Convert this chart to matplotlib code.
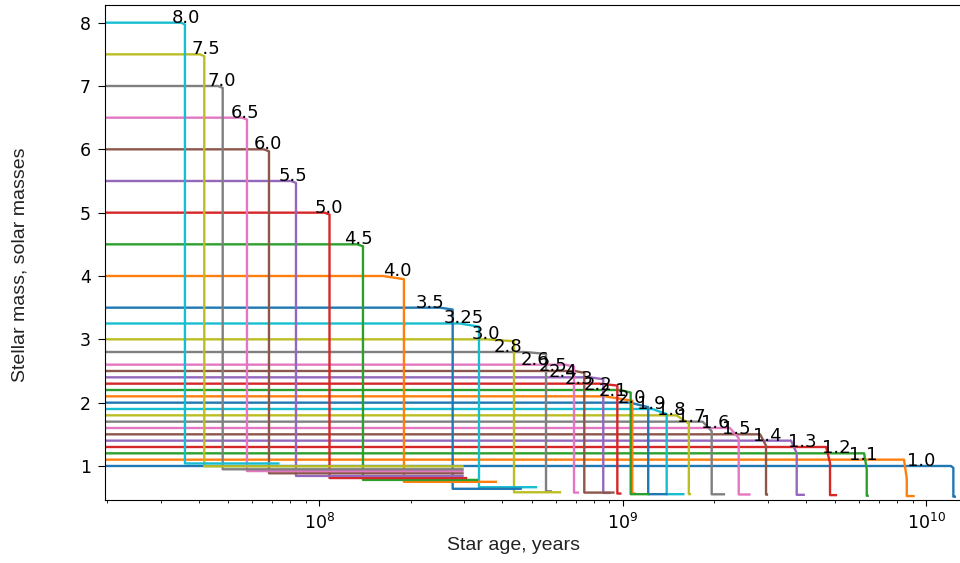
import matplotlib
matplotlib.use('Agg')
import matplotlib.pyplot as plt

# Initial stellar masses (solar masses), in plotting order
masses = [1.0, 1.1, 1.2, 1.3, 1.4, 1.5, 1.6, 1.7, 1.8, 1.9,
          2.0, 2.1, 2.2, 2.3, 2.4, 2.5, 2.6, 2.8, 3.0, 3.25,
          3.5, 4.0, 4.5, 5.0, 5.5, 6.0, 6.5, 7.0, 7.5, 8.0]
mass_labels = ['1.0', '1.1', '1.2', '1.3', '1.4', '1.5', '1.6', '1.7', '1.8', '1.9',
               '2.0', '2.1', '2.2', '2.3', '2.4', '2.5', '2.6', '2.8', '3.0', '3.25',
               '3.5', '4.0', '4.5', '5.0', '5.5', '6.0', '6.5', '7.0', '7.5', '8.0']

# Main-sequence age (years) where each label sits
ms_age = [9.64e9, 6.19e9, 5.04e9, 3.90e9, 2.99e9, 2.37e9, 2.01e9, 1.68e9, 1.44e9, 1.24e9,
          1.07e9, 9.27e8, 8.27e8, 7.16e8, 6.34e8, 5.88e8, 5.13e8, 4.18e8, 3.54e8, 2.98e8,
          2.32e8, 1.81e8, 1.34e8, 1.07e8, 8.15e7, 6.77e7, 5.70e7, 4.77e7, 4.22e7, 3.62e7]
# Age where mass loss begins (years)
bend_age = [1.204e10, 8.43e9, 6.23e9, 4.67e9, 3.58e9, 2.83e9, 2.25e9, 1.83e9, 1.50e9, 1.25e9,
            1.055e9, 8.72e8, 9.77e8, 8.40e8, 7.79e8, 6.95e8, 6.44e8, 4.75e8, 3.56e8, 2.90e8,
            2.50e8, 1.62e8, 1.33e8, 1.04e8, 8.06e7, 6.56e7, 5.55e7, 4.63e7, 4.04e7, 3.50e7]
# Mass just before the final drop
tip_mass = [0.97, 0.80, 0.95, 1.05, 1.20, 1.32, 1.44, 1.55, 1.67, 1.82,
            1.93, 2.03, 2.16, 2.27, 2.37, 2.47, 2.57, 2.77, 2.97, 3.20,
            3.47, 3.95, 4.47, 4.97, 5.47, 5.97, 6.47, 6.97, 7.47, 7.97]
# Age of the final drop (years)
drop_age = [1.226e10, 8.61e9, 6.355e9, 4.81e9, 3.736e9, 2.96e9, 2.406e9, 1.96e9, 1.648e9, 1.393e9,
            1.211e9, 1.073e9, 1.060e9, 9.58e8, 8.61e8, 7.456e8, 6.897e8, 5.577e8, 4.375e8, 3.354e8,
            2.747e8, 1.898e8, 1.391e8, 1.079e8, 8.368e7, 6.818e7, 5.769e7, 4.799e7, 4.173e7, 3.604e7]
# Remnant mass and last age of each track
final_mass = [0.515, 0.525, 0.53, 0.54, 0.545, 0.548, 0.55, 0.553, 0.555, 0.555,
              0.555, 0.565, 0.555, 0.565, 0.575, 0.58, 0.58, 0.60, 0.585, 0.665,
              0.64, 0.75, 0.78, 0.81, 0.843, 0.885, 0.92, 0.948, 0.995, 1.04]
end_age = [1.24e10, 9.06e9, 6.40e9, 5.03e9, 3.94e9, 2.98e9, 2.61e9, 2.15e9, 1.66e9, 1.58e9,
           1.39e9, 1.09e9, 1.21e9, 9.8e8, 9.0e8, 9.30e8, 7.1e8, 5.78e8, 6.2e8, 5.17e8,
           4.60e8, 3.81e8, 3.30e8, 3.04e8, 2.96e8, 2.96e8, 2.96e8, 2.96e8, 2.96e8, 7.32e7]
start_age = 1.0e6

plt.rcParams['font.family'] = ['DejaVu Sans']

fig = plt.figure(figsize=(9.6, 5.63), dpi=100)
ax = fig.add_axes([105 / 960, 63 / 563, 865 / 960, 495 / 563])

for i, m in enumerate(masses):
    xs = [start_age, bend_age[i], drop_age[i], drop_age[i], end_age[i]]
    ys = [m, m, tip_mass[i], final_mass[i], final_mass[i]]
    ax.plot(xs, ys, lw=1.7)

for i, m in enumerate(masses):
    ax.text(ms_age[i], m, mass_labels[i], ha='center', va='baseline',
            fontsize=13, color='black')

ax.set_xscale('log')
ax.set_xlim(1.965e7, 1.391e10)
ax.set_ylim(0.463, 8.279)
ax.set_yticks(range(1, 9))

ax.tick_params(axis='both', labelsize=12.5, colors='black')
ax.tick_params(axis='y', which='major', length=5, pad=5)
ax.tick_params(axis='x', which='major', length=4, pad=5)

label_font = ['Liberation Sans', 'DejaVu Sans']
ax.set_xlabel('Star age, years', fontsize=14, family=label_font, color='#222222')
ax.set_ylabel('Stellar mass, solar masses', fontsize=14, family=label_font, color='#222222')
ax.xaxis.label.set_va('center')
ax.yaxis.label.set_va('center')
ax.xaxis.set_label_coords((513.5 - 105) / 865, (500 - 546) / 495)
ax.yaxis.set_label_coords((20 - 105) / 865, (500 - 265) / 495)

fig.savefig('out.png', dpi=100)
